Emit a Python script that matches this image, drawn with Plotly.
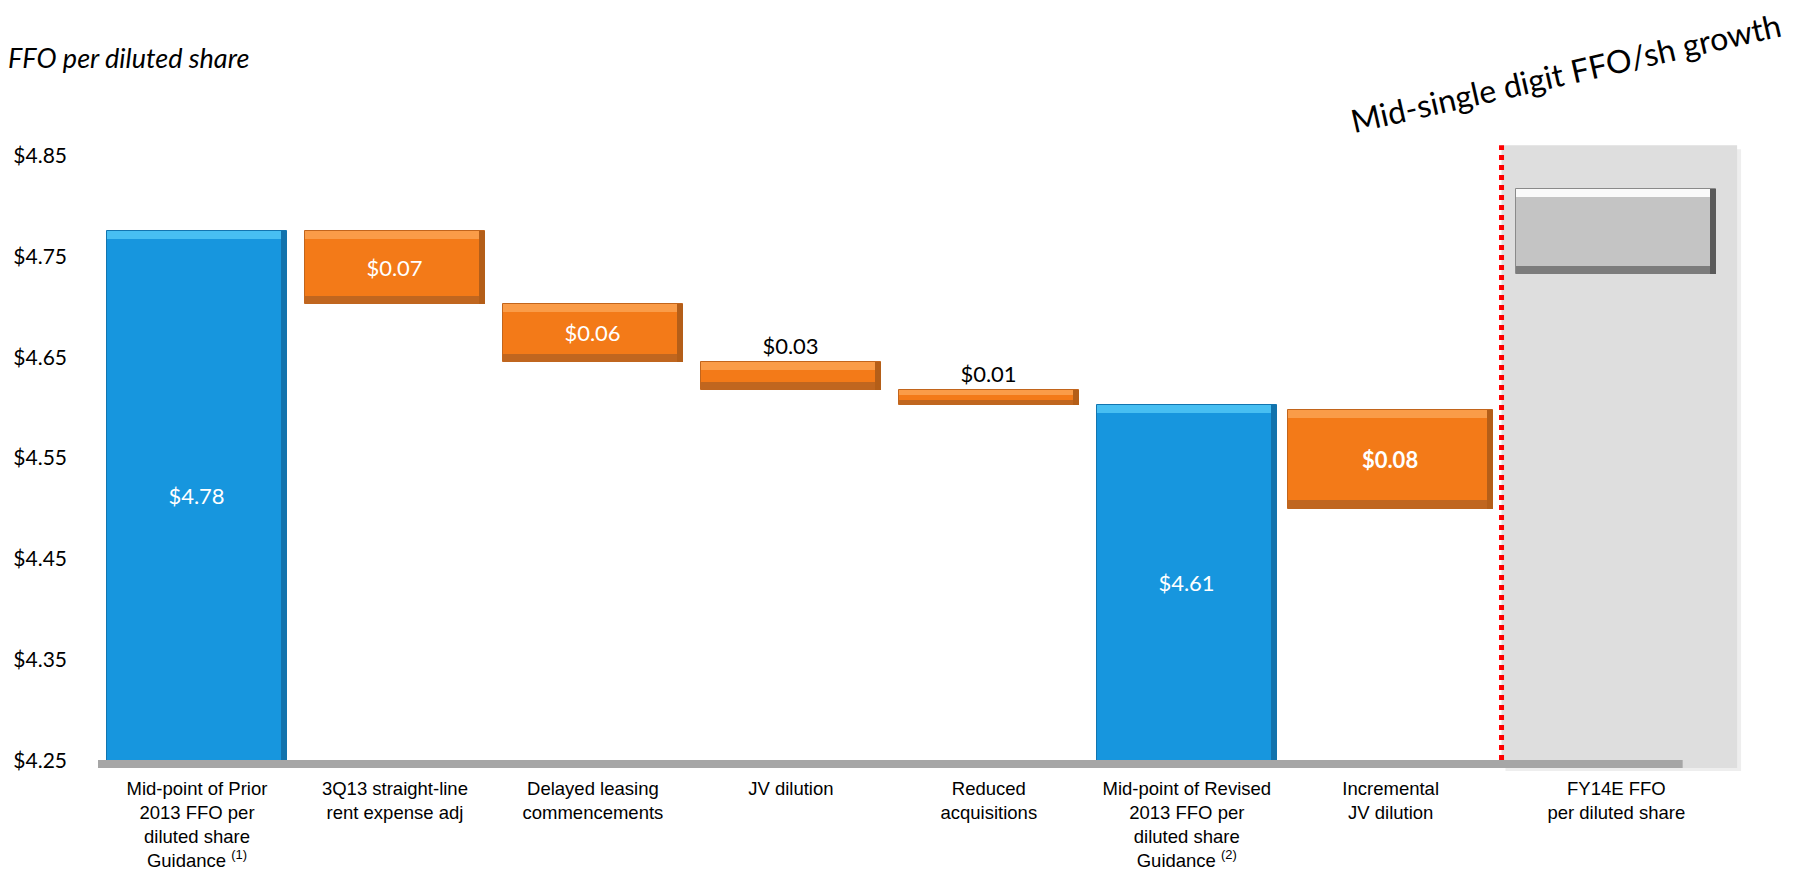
import plotly.graph_objects as go

# ---------------- data ----------------
categories = [
    "Mid-point of Prior<br>2013 FFO per<br>diluted share<br>Guidance <sup>(1)</sup>",
    "3Q13 straight-line<br>rent expense adj",
    "Delayed leasing<br>commencements",
    "JV dilution",
    "Reduced<br>acquisitions",
    "Mid-point of Revised<br>2013 FFO per<br>diluted share<br>Guidance <sup>(2)</sup>",
    "Incremental<br>JV dilution",
    "FY14E FFO<br>per diluted share",
]
bar_low = [4.25, 4.703, 4.645, 4.617, 4.603, 4.25, 4.500, 4.732]
bar_high = [4.775, 4.775, 4.703, 4.645, 4.617, 4.603, 4.598, 4.817]
bar_labels = ["$4.78", "$0.07", "$0.06", "$0.03", "$0.01", "$4.61", "<b>$0.08</b>", ""]
kinds = ["total", "step", "step", "step", "step", "total", "step", "target"]
y_ticks = [4.25, 4.35, 4.45, 4.55, 4.65, 4.75, 4.85]
y_tick_text = ["$4.25", "$4.35", "$4.45", "$4.55", "$4.65", "$4.75", "$4.85"]
y_title = "FFO per diluted share"
growth_note = "Mid-single digit FFO/sh growth"

# ---------------- layout helpers (positions / styles) ----------------
slot_x = [0, 1, 2, 3, 4, 5, 6.03, 7.17]
slot_w = [0.91, 0.91, 0.91, 0.91, 0.91, 0.91, 1.035, 1.01]
fill = {"total": "#1796DE", "step": "#F37A18", "target": "#C4C4C4"}
edge = {"total": "#1275B0", "step": "#C2651C", "target": "#8A8A8A"}
top_c = {"total": "#47BFF2", "step": "#FA9C48", "target": "#FAFAFA"}
bot_c = {"total": "#1796DE", "step": "#C0661F", "target": "#7C7C7C"}
right_c = {"total": "#1273AD", "step": "#B45E18", "target": "#5A5A5A"}
pos = ["inside", "inside", "inside", "outside", "outside", "inside", "inside", "none"]
tcol = ["white", "white", "white", "black", "black", "white", "white", "white"]

num_font = "Lato, Carlito, Calibri, 'Open Sans', sans-serif"
cat_font = "'Liberation Sans', Arial, sans-serif"

heights = [h - l for h, l in zip(bar_high, bar_low)]
bevel = [min(0.008, 0.3 * d) for d in heights]
side = 0.03

fig = go.Figure()

# main bars with value labels
fig.add_trace(go.Bar(
    x=slot_x, y=heights, base=bar_low, width=slot_w,
    marker=dict(color=[fill[k] for k in kinds],
                line=dict(color=[edge[k] for k in kinds], width=1)),
    text=bar_labels, textposition=pos, insidetextanchor="middle", textangle=0,
    constraintext="none",
    textfont=dict(family=num_font, size=22, color=tcol),
    cliponaxis=False, hoverinfo="skip", showlegend=False,
))
# bevel: top highlight
fig.add_trace(go.Bar(
    x=slot_x, y=bevel, base=[h - b for h, b in zip(bar_high, bevel)], width=slot_w,
    marker=dict(color=[top_c[k] for k in kinds], line=dict(width=0)),
    hoverinfo="skip", showlegend=False,
))
# bevel: bottom shade
fig.add_trace(go.Bar(
    x=slot_x, y=bevel, base=bar_low, width=slot_w,
    marker=dict(color=[bot_c[k] for k in kinds], line=dict(width=0)),
    hoverinfo="skip", showlegend=False,
))
# bevel: right shade
fig.add_trace(go.Bar(
    x=slot_x, y=heights, base=bar_low, width=side,
    offset=[w / 2 - side for w in slot_w],
    marker=dict(color=[right_c[k] for k in kinds], line=dict(width=0)),
    hoverinfo="skip", showlegend=False,
))

shapes = []
# soft shadow + grey forecast panel
shapes.append(dict(type="rect", xref="x", yref="y", x0=6.61, x1=7.80, y0=4.239, y1=4.856,
                   fillcolor="#EEEEEE", line=dict(width=0), layer="below"))
shapes.append(dict(type="rect", xref="x", yref="y", x0=6.59, x1=7.78, y0=4.243, y1=4.86,
                   fillcolor="#DEDEDE", line=dict(width=0), layer="below"))
# baseline axis bar
shapes.append(dict(type="rect", xref="x", yref="y", x0=-0.5, x1=7.505, y0=4.243, y1=4.251,
                   fillcolor="#A6A6A6", line=dict(width=0), layer="above"))
# red dotted separator
shapes.append(dict(type="line", xref="x", yref="y", x0=6.59, x1=6.59, y0=4.251, y1=4.86,
                   line=dict(color="#FF0000", width=5, dash="5px,5px"), layer="above"))

fig.update_layout(
    width=1810, height=873,
    margin=dict(l=98, r=63, t=125, b=102, autoexpand=False),
    paper_bgcolor="white", plot_bgcolor="white",
    shapes=shapes,
    barmode="overlay",
    bargap=0,
    xaxis=dict(range=[-0.5, 7.83], tickmode="array", tickvals=slot_x, ticktext=categories,
               showgrid=False, zeroline=False, showline=False, ticks="",
               tickfont=dict(family=cat_font, size=18.5, color="black"), ticklabelstandoff=4,
               fixedrange=True),
    yaxis=dict(range=[4.24, 4.88], tickmode="array", tickvals=y_ticks, ticktext=y_tick_text,
               showgrid=False, zeroline=False, showline=False, ticks="",
               tickfont=dict(family=num_font, size=21, color="black"), ticklabelstandoff=30,
               fixedrange=True),
    annotations=[
        dict(text=f"<i>{y_title}</i>", xref="paper", yref="paper", x=-0.056, y=1.105,
             xanchor="left", yanchor="middle", showarrow=False,
             font=dict(family=num_font, size=27, color="black")),
        dict(text=growth_note, xref="paper", yref="paper", x=0.890, y=1.0805,
             xanchor="center", yanchor="middle", showarrow=False, textangle=-12.8,
             font=dict(family=num_font, size=32, color="black")),
    ],
)

fig.write_html("out.html")
